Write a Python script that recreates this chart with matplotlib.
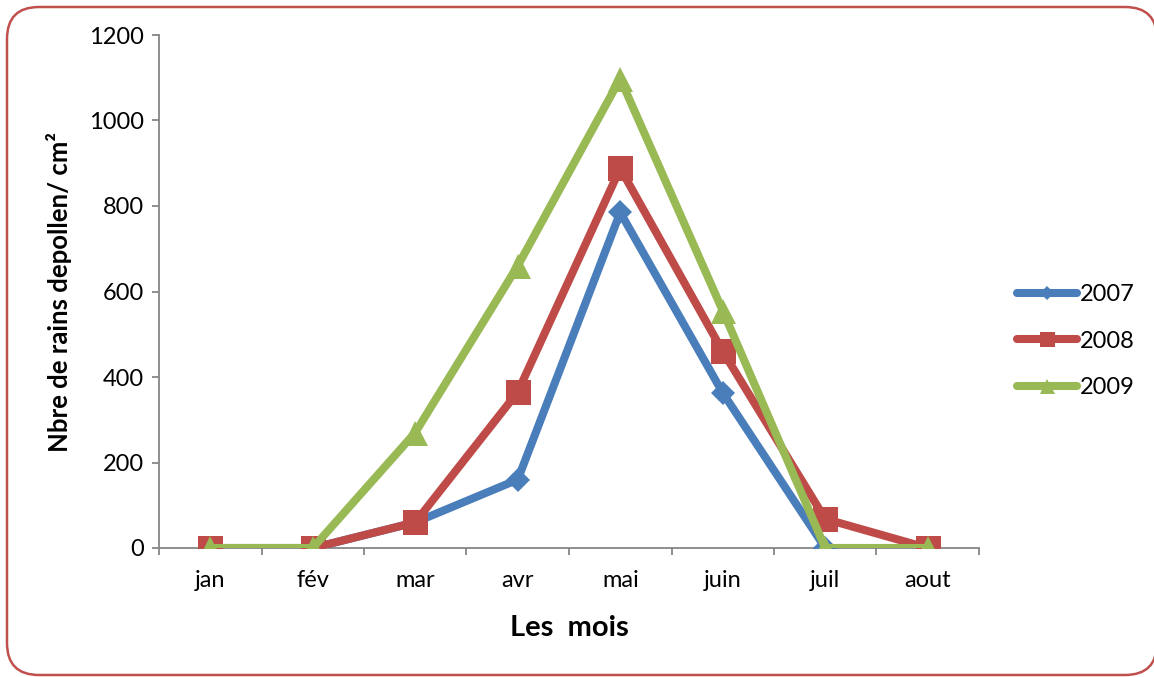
import matplotlib
matplotlib.use("Agg")
import matplotlib.pyplot as plt
from matplotlib.patches import FancyBboxPatch

plt.rcParams['font.family'] = ['Lato', 'DejaVu Sans']

months = ["jan", "fév", "mar", "avr", "mai", "juin", "juil", "aout"]
pollen_2007 = [0, 0, 60, 160, 785, 363, 0, 0]
pollen_2008 = [0, 0, 60, 365, 888, 460, 68, 0]
pollen_2009 = [0, 0, 270, 660, 1098, 555, 0, 0]
y_ticks = [0, 200, 400, 600, 800, 1000, 1200]

W, H, DPI = 1154, 677, 100
fig = plt.figure(figsize=(W / DPI, H / DPI), dpi=DPI)

# rounded outer frame, drawn in pixel coordinates
bg = fig.add_axes([0, 0, 1, 1])
bg.set_xlim(0, W)
bg.set_ylim(H, 0)
bg.axis("off")
frame = FancyBboxPatch((7, 7), W - 4, H - 9,
                       boxstyle="round,pad=0,rounding_size=32",
                       facecolor="white", edgecolor="#C0504D", linewidth=1.8)
bg.add_patch(frame)

x0, x1, yb, yt = 159, 979, 548, 35
ax = fig.add_axes([x0 / W, (H - yb) / H, (x1 - x0) / W, (yb - yt) / H])
ax.patch.set_alpha(0)

xs = list(range(len(months)))
series = [
    ("2007", pollen_2007, "#4A7EBB", "D", 12.5),
    ("2008", pollen_2008, "#BE4B48", "s", 18),
    ("2009", pollen_2009, "#98B954", "^", 18),
]
for i, (name, vals, col, mk, ms) in enumerate(series):
    ax.plot(xs, vals, color=col, linewidth=5.8, marker=mk, markersize=ms,
            markeredgewidth=0, label=name, zorder=3 + i,
            solid_capstyle="round", solid_joinstyle="round")

ax.set_xlim(-0.5, len(months) - 0.5)
ax.set_ylim(0, 1200)
ax.set_yticks(y_ticks)
ax.set_yticklabels([str(v) for v in y_ticks], fontsize=17)
ax.set_xticks(xs)
ax.set_xticklabels(months, fontsize=17)
ax.set_xticks([i - 0.5 for i in range(len(months) + 1)], minor=True)

axis_col = "#868686"
for s in ("top", "right"):
    ax.spines[s].set_visible(False)
for s in ("left", "bottom"):
    ax.spines[s].set_color(axis_col)
    ax.spines[s].set_linewidth(1.3)
ax.tick_params(axis="y", direction="out", length=5, width=1.3, color=axis_col, pad=6)
ax.tick_params(axis="x", which="major", length=0, pad=16)
ax.tick_params(axis="x", which="minor", direction="out", length=5, width=1.3, color=axis_col)

ax.set_xlabel("Les  mois", fontsize=21, fontweight="bold", labelpad=17)
ax.set_ylabel("Nbre de rains depollen/ cm²", fontsize=18.5, fontweight="bold", labelpad=12)

leg = fig.legend(loc="center left", bbox_to_anchor=(996 / W, (H - 341) / H),
                 frameon=False, fontsize=17, handlelength=2.55, handletextpad=0.1,
                 labelspacing=1.08, markerscale=0.6)

fig.savefig("out.png", dpi=DPI)
